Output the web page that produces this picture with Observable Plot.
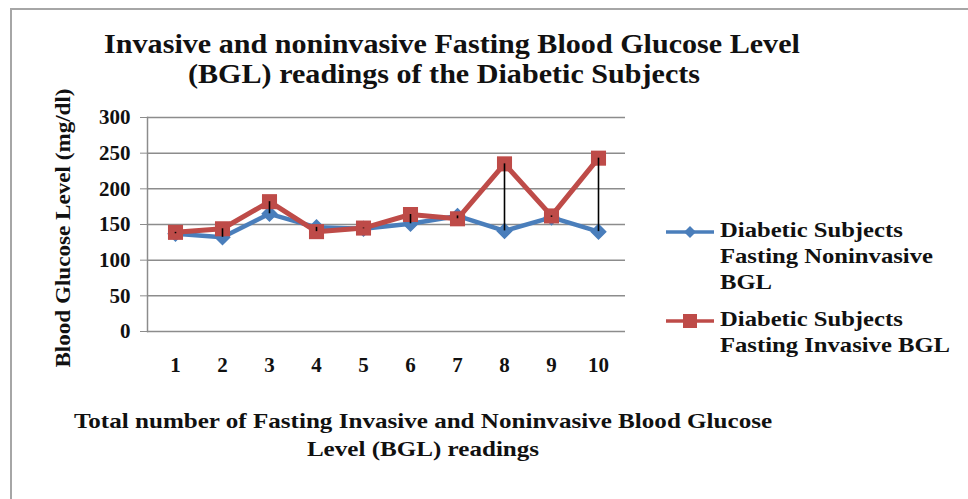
<!DOCTYPE html>
<html>
<head>
<meta charset="utf-8">
<script src="https://cdn.jsdelivr.net/npm/d3@7"></script>
<script src="https://cdn.jsdelivr.net/npm/@observablehq/plot@0.6"></script>
<style>
  html, body { margin: 0; padding: 0; background: #fff; }
  #wrap { position: relative; width: 968px; height: 499px; overflow: hidden; font-family: "Liberation Serif", "Times New Roman", serif; font-weight: bold; color: #111; }
  #wrap svg.plot { position: absolute; left: 0; top: 0; }
  .frame { position: absolute; left: 10px; top: 8px; width: 1000px; height: 600px; border-left: 2px solid #a6a6a6; border-top: 2px solid #a6a6a6; }
  .t { position: absolute; white-space: nowrap; line-height: 1; }
</style>
</head>
<body>
<div id="wrap">
  <div class="frame"></div>
</div>
<script>
const readings = [1, 2, 3, 4, 5, 6, 7, 8, 9, 10];
const noninvasive = [137, 132, 165, 146, 144, 151, 162, 141, 160, 140];
const invasive = [139, 144, 182, 140, 145, 164, 158, 235, 162, 243];
const yTicks = [0, 50, 100, 150, 200, 250, 300];
const titleLines = ["Invasive and noninvasive Fasting Blood Glucose Level", "(BGL) readings of the Diabetic Subjects"];
const xTitleLines = ["Total number of Fasting Invasive and Noninvasive Blood Glucose", "Level (BGL) readings"];
const yTitle = "Blood Glucose Level (mg/dl)";
const legendLines = [["Diabetic Subjects", "Fasting Noninvasive", "BGL"], ["Diabetic Subjects", "Fasting Invasive BGL"]];

const blue = "#4a7ebb";
const red = "#be4b48";

const nonData = readings.map((r, i) => ({reading: r, value: noninvasive[i]}));
const invData = readings.map((r, i) => ({reading: r, value: invasive[i]}));
const pairs = readings.map((r, i) => ({reading: r, lo: noninvasive[i], hi: invasive[i]}));

const chart = Plot.plot({
  width: 968,
  height: 499,
  marginLeft: 147,
  marginRight: 343,
  marginTop: 117,
  marginBottom: 168,
  style: {fontFamily: "'Liberation Serif', serif", fontWeight: "bold", background: "transparent", color: "#111"},
  x: {type: "point", domain: readings, padding: 0.5},
  y: {domain: [0, 300], ticks: yTicks},
  marks: [
    Plot.ruleY(yTicks, {stroke: "#8c8c8c", strokeWidth: 1.5}),
    Plot.frame({anchor: "left", stroke: "#8c8c8c", strokeWidth: 1.5}),
    Plot.axisY({ticks: yTicks, tickSize: 7, tickPadding: 10, fontSize: 21, fontWeight: "bold", stroke: "#8c8c8c", label: null, style: {letterSpacing: "3px"}}),
    Plot.axisX({tickSize: 0, tickPadding: 26, fontSize: 21, fontWeight: "bold", label: null}),
    Plot.line(nonData, {x: "reading", y: "value", stroke: blue, strokeWidth: 4.5}),
    Plot.dot(nonData, {x: "reading", y: "value", symbol: "diamond2", r: 6.5, fill: blue, stroke: blue}),
    Plot.line(invData, {x: "reading", y: "value", stroke: red, strokeWidth: 5}),
    Plot.dot(invData, {x: "reading", y: "value", symbol: "square", r: 8.5, fill: red, stroke: "none"}),
    Plot.ruleX(pairs, {x: "reading", y1: "lo", y2: "hi", stroke: "#000", strokeWidth: 1.6})
  ]
});
chart.classList.add("plot");
const wrap = document.getElementById("wrap");
wrap.appendChild(chart);

function addText(txt, left, top, size, opts = {}) {
  const d = document.createElement("div");
  d.className = "t";
  d.textContent = txt;
  d.style.left = left + "px";
  d.style.top = top + "px";
  d.style.fontSize = size + "px";
  if (opts.center) d.style.transform = "translateX(-50%)" + (opts.sx ? ` scaleX(${opts.sx})` : "");
  else if (opts.sx) { d.style.transformOrigin = "0 0"; d.style.transform = `scaleX(${opts.sx})`; }
  wrap.appendChild(d);
  return d;
}

// Title
addText(titleLines[0], 452, 30, 28, {center: true, sx: 1.075});
addText(titleLines[1], 444, 60, 28, {center: true, sx: 1.075});

// X-axis title
addText(xTitleLines[0], 423, 410, 22, {center: true, sx: 1.14});
addText(xTitleLines[1], 423, 438, 22, {center: true, sx: 1.14});

// Y-axis title (rotated)
const yt = addText(yTitle, 0, 0, 21);
yt.style.left = "63px";
yt.style.top = "228px";
yt.style.transform = "translate(-50%, -50%) rotate(-90deg) scaleX(1.1)";

// Legend
function legendItem(lines, top, color, symbol) {
  const ns = "http://www.w3.org/2000/svg";
  const s = document.createElementNS(ns, "svg");
  s.setAttribute("width", 52); s.setAttribute("height", 20);
  s.style.position = "absolute"; s.style.left = "664px"; s.style.top = (top + 2) + "px";
  const l = document.createElementNS(ns, "line");
  l.setAttribute("x1", 2); l.setAttribute("x2", 50); l.setAttribute("y1", 10); l.setAttribute("y2", 10);
  l.setAttribute("stroke", color); l.setAttribute("stroke-width", 3.5);
  s.appendChild(l);
  const m = document.createElementNS(ns, "path");
  m.setAttribute("d", symbol === "diamond" ? "M26,4L32,10L26,16L20,10Z" : "M19,3H33V17H19Z");
  m.setAttribute("fill", color);
  s.appendChild(m);
  wrap.appendChild(s);
  lines.forEach((t, i) => addText(t, 720, top - 1 + i * 26, 22, {sx: 1.12}));
}
legendItem(legendLines[0], 220, blue, "diamond");
legendItem(legendLines[1], 309, red, "square");
</script>
</body>
</html>
